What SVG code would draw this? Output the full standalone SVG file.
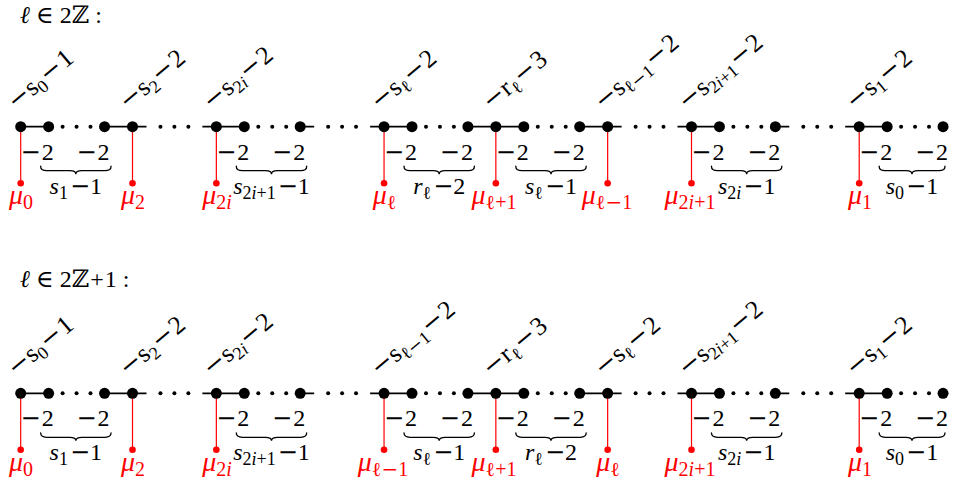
<svg xmlns="http://www.w3.org/2000/svg" width="953" height="484" viewBox="0 0 953 484">
<style>
  text { font-family: "Liberation Serif", "DejaVu Serif", serif; fill: #000; }
  .title { font-size: 24px; }
  .i { font-style: italic; }
  .m { font-family: "DejaVu Serif", "Liberation Serif", serif; font-style: normal; }
  .sb { font-size: 17px; }
  .rl { font-size: 26px; }
  .rl .sb { font-size: 18px; }
  .wt { font-size: 24px; text-anchor: end; }
  .bl { font-size: 24px; text-anchor: middle; }
  .bl .sb { font-size: 18px; }
  .mu { font-size: 28px; text-anchor: middle; fill: #ff0000; }
  .mu .sb { font-size: 20px; }
  .edge { stroke: #000; stroke-width: 1.8; fill: none; }
  .leg { stroke: #ff0000; stroke-width: 1.2; fill: none; }
  .brace { stroke: #000; stroke-width: 1.3; fill: none; stroke-linecap: round; }
  .node { fill: #000; }
  .pt { fill: #000; }
  .red { fill: #ff0000; }
</style>
<defs>
  <!-- one dotted stretch: three small points, 14 px apart -->
  <g id="dots"><circle class="pt" cx="0" cy="0" r="2"/><circle class="pt" cx="13.95" cy="0" r="2"/><circle class="pt" cx="27.9" cy="0" r="2"/></g>
  <!-- red pendant end point -->
  <circle id="tip" class="red" cx="0" cy="0" r="3.3"/>
  <circle id="vtx" class="node" cx="0" cy="0" r="5.5"/>
  <!-- weight label -2 under a chain vertex, right edge at the anchor -->
  <text id="w2" class="wt"><tspan class="m">−</tspan><tspan dx="1">2</tspan></text>
</defs>

<text class="title" x="20" y="23"><tspan class="i">ℓ</tspan> ∈ 2ℤ :</text>
<text class="title" x="20" y="287"><tspan class="i">ℓ</tspan> ∈ 2ℤ<tspan dx="1">+</tspan><tspan dx="1">1</tspan> :</text>

<!-- ===================== first chain ===================== -->
<g id="rowEven" transform="translate(0,126.7)">
  <g id="connectors-even">
    <path class="edge" d="M20.7 0H48.65 M104.55 0H146.5 M202.4 0H244.3 M300.2 0H314.2 M370.1 0H412 M467.9 0H523.8 M579.7 0H621.6 M677.5 0H719.45 M775.35 0H789.3 M845.2 0H887.15"/>
    <use href="#dots" x="62.6"/><use href="#dots" x="160.45"/><use href="#dots" x="258.3"/><use href="#dots" x="328.15"/>
    <use href="#dots" x="426"/><use href="#dots" x="537.8"/><use href="#dots" x="635.6"/><use href="#dots" x="733.4"/>
    <use href="#dots" x="803.3"/><use href="#dots" x="901.1"/>
    <path class="leg" d="M20.7 0V56.5 M132.5 0V56.5 M216.35 0V56.5 M384.05 0V56.5 M495.85 0V56.5 M607.65 0V56.5 M691.5 0V56.5 M859.2 0V56.5"/>
    <path class="brace" d="M40.65 39.5Q40.65 44 46.65 44H69.85Q75.85 44 75.85 47.5Q75.85 44 81.85 44H105.05Q111.05 44 111.05 39.5"/>
    <path class="brace" d="M236.3 39.5Q236.3 44 242.3 44H265.5Q271.5 44 271.5 47.5Q271.5 44 277.5 44H300.7Q306.7 44 306.7 39.5"/>
    <path class="brace" d="M404 39.5Q404 44 410 44H433.2Q439.2 44 439.2 47.5Q439.2 44 445.2 44H468.4Q474.4 44 474.4 39.5"/>
    <path class="brace" d="M515.8 39.5Q515.8 44 521.8 44H545Q551 44 551 47.5Q551 44 557 44H580.2Q586.2 44 586.2 39.5"/>
    <path class="brace" d="M711.45 39.5Q711.45 44 717.45 44H740.65Q746.65 44 746.65 47.5Q746.65 44 752.65 44H775.85Q781.85 44 781.85 39.5"/>
    <path class="brace" d="M879.15 39.5Q879.15 44 885.15 44H906Q912 44 912 47.5Q912 44 918 44H939Q945 44 945 39.5"/>
  </g>

  <g id="e-v0"><use href="#vtx" x="20.7"/>
    <text class="rl" transform="translate(15.7,-16) rotate(-40)"><tspan class="m">−</tspan>s<tspan class="sb" dy="5">0</tspan><tspan class="m" dy="-5" dx="1">−</tspan><tspan dx="1">1</tspan></text></g>
  <g id="e-v1"><use href="#vtx" x="48.65"/><use href="#w2" x="53.65" y="33"/></g>
  <g id="e-v3"><use href="#vtx" x="104.55"/><use href="#w2" x="109.55" y="33"/></g>
  <g id="e-v4"><use href="#vtx" x="132.5"/>
    <text class="rl" transform="translate(127.5,-16) rotate(-40)"><tspan class="m">−</tspan>s<tspan class="sb" dy="5">2</tspan><tspan class="m" dy="-5" dx="1">−</tspan><tspan dx="1">2</tspan></text></g>
  <g id="e-v7"><use href="#vtx" x="216.35"/>
    <text class="rl" transform="translate(211.35,-16) rotate(-40)"><tspan class="m">−</tspan>s<tspan class="sb" dy="5">2<tspan class="i">i</tspan></tspan><tspan class="m" dy="-5" dx="1">−</tspan><tspan dx="1">2</tspan></text></g>
  <g id="e-v8"><use href="#vtx" x="244.3"/><use href="#w2" x="249.3" y="33"/></g>
  <g id="e-v10"><use href="#vtx" x="300.2"/><use href="#w2" x="305.2" y="33"/></g>
  <g id="e-v13"><use href="#vtx" x="384.05"/>
    <text class="rl" transform="translate(379.05,-16) rotate(-40)"><tspan class="m">−</tspan>s<tspan class="sb" dy="5">ℓ</tspan><tspan class="m" dy="-5" dx="1">−</tspan><tspan dx="1">2</tspan></text></g>
  <g id="e-v14"><use href="#vtx" x="412"/><use href="#w2" x="417" y="33"/></g>
  <g id="e-v16"><use href="#vtx" x="467.9"/><use href="#w2" x="472.9" y="33"/></g>
  <g id="e-v17"><use href="#vtx" x="495.85"/>
    <text class="rl" transform="translate(490.85,-16) rotate(-40)"><tspan class="m">−</tspan>r<tspan class="sb" dy="5">ℓ</tspan><tspan class="m" dy="-5" dx="1">−</tspan><tspan dx="1">3</tspan></text></g>
  <g id="e-v18"><use href="#vtx" x="523.8"/><use href="#w2" x="528.8" y="33"/></g>
  <g id="e-v20"><use href="#vtx" x="579.7"/><use href="#w2" x="584.7" y="33"/></g>
  <g id="e-v21"><use href="#vtx" x="607.65"/>
    <text class="rl" transform="translate(602.65,-16) rotate(-40)"><tspan class="m">−</tspan>s<tspan class="sb" dy="5">ℓ<tspan class="m">−</tspan>1</tspan><tspan class="m" dy="-5" dx="1">−</tspan><tspan dx="1">2</tspan></text></g>
  <g id="e-v24"><use href="#vtx" x="691.5"/>
    <text class="rl" transform="translate(686.5,-16) rotate(-40)"><tspan class="m">−</tspan>s<tspan class="sb" dy="5">2<tspan class="i">i</tspan>+1</tspan><tspan class="m" dy="-5" dx="1">−</tspan><tspan dx="1">2</tspan></text></g>
  <g id="e-v25"><use href="#vtx" x="719.45"/><use href="#w2" x="724.45" y="33"/></g>
  <g id="e-v27"><use href="#vtx" x="775.35"/><use href="#w2" x="780.35" y="33"/></g>
  <g id="e-v30"><use href="#vtx" x="859.2"/>
    <text class="rl" transform="translate(854.2,-16) rotate(-40)"><tspan class="m">−</tspan>s<tspan class="sb" dy="5">1</tspan><tspan class="m" dy="-5" dx="1">−</tspan><tspan dx="1">2</tspan></text></g>
  <g id="e-v31"><use href="#vtx" x="887.15"/><use href="#w2" x="892.15" y="33"/></g>
  <g id="e-v33"><use href="#vtx" x="943.05"/><use href="#w2" x="948" y="33"/></g>

  <!-- chain lengths under the braces -->
  <g id="e-len1"><text class="bl" x="75.85" y="67"><tspan class="i">s</tspan><tspan class="sb" dy="5">1</tspan><tspan class="m" dy="-5" dx="2">−</tspan>1</text></g>
  <g id="e-len8"><text class="bl" x="271.5" y="67"><tspan class="i">s</tspan><tspan class="sb" dy="5">2<tspan class="i">i</tspan>+1</tspan><tspan class="m" dy="-5" dx="2">−</tspan>1</text></g>
  <g id="e-len14"><text class="bl" x="439.2" y="67"><tspan class="i">r</tspan><tspan class="sb" dy="5">ℓ</tspan><tspan class="m" dy="-5" dx="2">−</tspan>2</text></g>
  <g id="e-len18"><text class="bl" x="551" y="67"><tspan class="i">s</tspan><tspan class="sb" dy="5">ℓ</tspan><tspan class="m" dy="-5" dx="2">−</tspan>1</text></g>
  <g id="e-len25"><text class="bl" x="746.65" y="67"><tspan class="i">s</tspan><tspan class="sb" dy="5">2<tspan class="i">i</tspan></tspan><tspan class="m" dy="-5" dx="2">−</tspan>1</text></g>
  <g id="e-len31"><text class="bl" x="912" y="67"><tspan class="i">s</tspan><tspan class="sb" dy="5">0</tspan><tspan class="m" dy="-5" dx="2">−</tspan>1</text></g>

  <!-- red pendant vertices -->
  <g id="e-mu0"><use href="#tip" x="20.7" y="56.5"/><text class="mu" x="21" y="77.5"><tspan class="i">μ</tspan><tspan class="sb" dy="5">0</tspan></text></g>
  <g id="e-mu2"><use href="#tip" x="132.5" y="56.5"/><text class="mu" x="133" y="77.5"><tspan class="i">μ</tspan><tspan class="sb" dy="5">2</tspan></text></g>
  <g id="e-mu2i"><use href="#tip" x="216.35" y="56.5"/><text class="mu" x="217" y="77.5"><tspan class="i">μ</tspan><tspan class="sb" dy="5">2<tspan class="i">i</tspan></tspan></text></g>
  <g id="e-mul"><use href="#tip" x="384.05" y="56.5"/><text class="mu" x="384.5" y="77.5"><tspan class="i">μ</tspan><tspan class="sb" dy="5">ℓ</tspan></text></g>
  <g id="e-mulp1"><use href="#tip" x="495.85" y="56.5"/><text class="mu" x="494" y="77.5"><tspan class="i">μ</tspan><tspan class="sb" dy="5">ℓ+1</tspan></text></g>
  <g id="e-mulm1"><use href="#tip" x="607.65" y="56.5"/><text class="mu" x="607" y="77.5"><tspan class="i">μ</tspan><tspan class="sb" dy="5">ℓ<tspan class="m">−</tspan>1</tspan></text></g>
  <g id="e-mu2ip1"><use href="#tip" x="691.5" y="56.5"/><text class="mu" x="690" y="77.5"><tspan class="i">μ</tspan><tspan class="sb" dy="5">2<tspan class="i">i</tspan>+1</tspan></text></g>
  <g id="e-mu1"><use href="#tip" x="859.2" y="56.5"/><text class="mu" x="860" y="77.5"><tspan class="i">μ</tspan><tspan class="sb" dy="5">1</tspan></text></g>
</g>

<!-- ===================== second chain ===================== -->
<g id="rowOdd" transform="translate(0,393.3)">
  <g id="connectors-odd">
    <path class="edge" d="M20.7 0H48.65 M104.55 0H146.5 M202.4 0H244.3 M300.2 0H314.2 M370.1 0H412 M467.9 0H523.8 M579.7 0H621.6 M677.5 0H719.45 M775.35 0H789.3 M845.2 0H887.15"/>
    <use href="#dots" x="62.6"/><use href="#dots" x="160.45"/><use href="#dots" x="258.3"/><use href="#dots" x="328.15"/>
    <use href="#dots" x="426"/><use href="#dots" x="537.8"/><use href="#dots" x="635.6"/><use href="#dots" x="733.4"/>
    <use href="#dots" x="803.3"/><use href="#dots" x="901.1"/>
    <path class="leg" d="M20.7 0V56.5 M132.5 0V56.5 M216.35 0V56.5 M384.05 0V56.5 M495.85 0V56.5 M607.65 0V56.5 M691.5 0V56.5 M859.2 0V56.5"/>
    <path class="brace" d="M40.65 39.5Q40.65 44 46.65 44H69.85Q75.85 44 75.85 47.5Q75.85 44 81.85 44H105.05Q111.05 44 111.05 39.5"/>
    <path class="brace" d="M236.3 39.5Q236.3 44 242.3 44H265.5Q271.5 44 271.5 47.5Q271.5 44 277.5 44H300.7Q306.7 44 306.7 39.5"/>
    <path class="brace" d="M404 39.5Q404 44 410 44H433.2Q439.2 44 439.2 47.5Q439.2 44 445.2 44H468.4Q474.4 44 474.4 39.5"/>
    <path class="brace" d="M515.8 39.5Q515.8 44 521.8 44H545Q551 44 551 47.5Q551 44 557 44H580.2Q586.2 44 586.2 39.5"/>
    <path class="brace" d="M711.45 39.5Q711.45 44 717.45 44H740.65Q746.65 44 746.65 47.5Q746.65 44 752.65 44H775.85Q781.85 44 781.85 39.5"/>
    <path class="brace" d="M879.15 39.5Q879.15 44 885.15 44H906Q912 44 912 47.5Q912 44 918 44H939Q945 44 945 39.5"/>
  </g>

  <g id="o-v0"><use href="#vtx" x="20.7"/>
    <text class="rl" transform="translate(15.7,-16) rotate(-40)"><tspan class="m">−</tspan>s<tspan class="sb" dy="5">0</tspan><tspan class="m" dy="-5" dx="1">−</tspan><tspan dx="1">1</tspan></text></g>
  <g id="o-v1"><use href="#vtx" x="48.65"/><use href="#w2" x="53.65" y="33"/></g>
  <g id="o-v3"><use href="#vtx" x="104.55"/><use href="#w2" x="109.55" y="33"/></g>
  <g id="o-v4"><use href="#vtx" x="132.5"/>
    <text class="rl" transform="translate(127.5,-16) rotate(-40)"><tspan class="m">−</tspan>s<tspan class="sb" dy="5">2</tspan><tspan class="m" dy="-5" dx="1">−</tspan><tspan dx="1">2</tspan></text></g>
  <g id="o-v7"><use href="#vtx" x="216.35"/>
    <text class="rl" transform="translate(211.35,-16) rotate(-40)"><tspan class="m">−</tspan>s<tspan class="sb" dy="5">2<tspan class="i">i</tspan></tspan><tspan class="m" dy="-5" dx="1">−</tspan><tspan dx="1">2</tspan></text></g>
  <g id="o-v8"><use href="#vtx" x="244.3"/><use href="#w2" x="249.3" y="33"/></g>
  <g id="o-v10"><use href="#vtx" x="300.2"/><use href="#w2" x="305.2" y="33"/></g>
  <g id="o-v13"><use href="#vtx" x="384.05"/>
    <text class="rl" transform="translate(379.05,-16) rotate(-40)"><tspan class="m">−</tspan>s<tspan class="sb" dy="5">ℓ<tspan class="m">−</tspan>1</tspan><tspan class="m" dy="-5" dx="1">−</tspan><tspan dx="1">2</tspan></text></g>
  <g id="o-v14"><use href="#vtx" x="412"/><use href="#w2" x="417" y="33"/></g>
  <g id="o-v16"><use href="#vtx" x="467.9"/><use href="#w2" x="472.9" y="33"/></g>
  <g id="o-v17"><use href="#vtx" x="495.85"/>
    <text class="rl" transform="translate(490.85,-16) rotate(-40)"><tspan class="m">−</tspan>r<tspan class="sb" dy="5">ℓ</tspan><tspan class="m" dy="-5" dx="1">−</tspan><tspan dx="1">3</tspan></text></g>
  <g id="o-v18"><use href="#vtx" x="523.8"/><use href="#w2" x="528.8" y="33"/></g>
  <g id="o-v20"><use href="#vtx" x="579.7"/><use href="#w2" x="584.7" y="33"/></g>
  <g id="o-v21"><use href="#vtx" x="607.65"/>
    <text class="rl" transform="translate(602.65,-16) rotate(-40)"><tspan class="m">−</tspan>s<tspan class="sb" dy="5">ℓ</tspan><tspan class="m" dy="-5" dx="1">−</tspan><tspan dx="1">2</tspan></text></g>
  <g id="o-v24"><use href="#vtx" x="691.5"/>
    <text class="rl" transform="translate(686.5,-16) rotate(-40)"><tspan class="m">−</tspan>s<tspan class="sb" dy="5">2<tspan class="i">i</tspan>+1</tspan><tspan class="m" dy="-5" dx="1">−</tspan><tspan dx="1">2</tspan></text></g>
  <g id="o-v25"><use href="#vtx" x="719.45"/><use href="#w2" x="724.45" y="33"/></g>
  <g id="o-v27"><use href="#vtx" x="775.35"/><use href="#w2" x="780.35" y="33"/></g>
  <g id="o-v30"><use href="#vtx" x="859.2"/>
    <text class="rl" transform="translate(854.2,-16) rotate(-40)"><tspan class="m">−</tspan>s<tspan class="sb" dy="5">1</tspan><tspan class="m" dy="-5" dx="1">−</tspan><tspan dx="1">2</tspan></text></g>
  <g id="o-v31"><use href="#vtx" x="887.15"/><use href="#w2" x="892.15" y="33"/></g>
  <g id="o-v33"><use href="#vtx" x="943.05"/><use href="#w2" x="948" y="33"/></g>

  <g id="o-len1"><text class="bl" x="75.85" y="67"><tspan class="i">s</tspan><tspan class="sb" dy="5">1</tspan><tspan class="m" dy="-5" dx="2">−</tspan>1</text></g>
  <g id="o-len8"><text class="bl" x="271.5" y="67"><tspan class="i">s</tspan><tspan class="sb" dy="5">2<tspan class="i">i</tspan>+1</tspan><tspan class="m" dy="-5" dx="2">−</tspan>1</text></g>
  <g id="o-len14"><text class="bl" x="439.2" y="67"><tspan class="i">s</tspan><tspan class="sb" dy="5">ℓ</tspan><tspan class="m" dy="-5" dx="2">−</tspan>1</text></g>
  <g id="o-len18"><text class="bl" x="551" y="67"><tspan class="i">r</tspan><tspan class="sb" dy="5">ℓ</tspan><tspan class="m" dy="-5" dx="2">−</tspan>2</text></g>
  <g id="o-len25"><text class="bl" x="746.65" y="67"><tspan class="i">s</tspan><tspan class="sb" dy="5">2<tspan class="i">i</tspan></tspan><tspan class="m" dy="-5" dx="2">−</tspan>1</text></g>
  <g id="o-len31"><text class="bl" x="912" y="67"><tspan class="i">s</tspan><tspan class="sb" dy="5">0</tspan><tspan class="m" dy="-5" dx="2">−</tspan>1</text></g>

  <g id="o-mu0"><use href="#tip" x="20.7" y="56.5"/><text class="mu" x="21" y="77.5"><tspan class="i">μ</tspan><tspan class="sb" dy="5">0</tspan></text></g>
  <g id="o-mu2"><use href="#tip" x="132.5" y="56.5"/><text class="mu" x="133" y="77.5"><tspan class="i">μ</tspan><tspan class="sb" dy="5">2</tspan></text></g>
  <g id="o-mu2i"><use href="#tip" x="216.35" y="56.5"/><text class="mu" x="217" y="77.5"><tspan class="i">μ</tspan><tspan class="sb" dy="5">2<tspan class="i">i</tspan></tspan></text></g>
  <g id="o-mulm1"><use href="#tip" x="384.05" y="56.5"/><text class="mu" x="383" y="77.5"><tspan class="i">μ</tspan><tspan class="sb" dy="5">ℓ<tspan class="m">−</tspan>1</tspan></text></g>
  <g id="o-mulp1"><use href="#tip" x="495.85" y="56.5"/><text class="mu" x="494" y="77.5"><tspan class="i">μ</tspan><tspan class="sb" dy="5">ℓ+1</tspan></text></g>
  <g id="o-mul"><use href="#tip" x="607.65" y="56.5"/><text class="mu" x="608" y="77.5"><tspan class="i">μ</tspan><tspan class="sb" dy="5">ℓ</tspan></text></g>
  <g id="o-mu2ip1"><use href="#tip" x="691.5" y="56.5"/><text class="mu" x="690" y="77.5"><tspan class="i">μ</tspan><tspan class="sb" dy="5">2<tspan class="i">i</tspan>+1</tspan></text></g>
  <g id="o-mu1"><use href="#tip" x="859.2" y="56.5"/><text class="mu" x="860" y="77.5"><tspan class="i">μ</tspan><tspan class="sb" dy="5">1</tspan></text></g>
</g>
</svg>
